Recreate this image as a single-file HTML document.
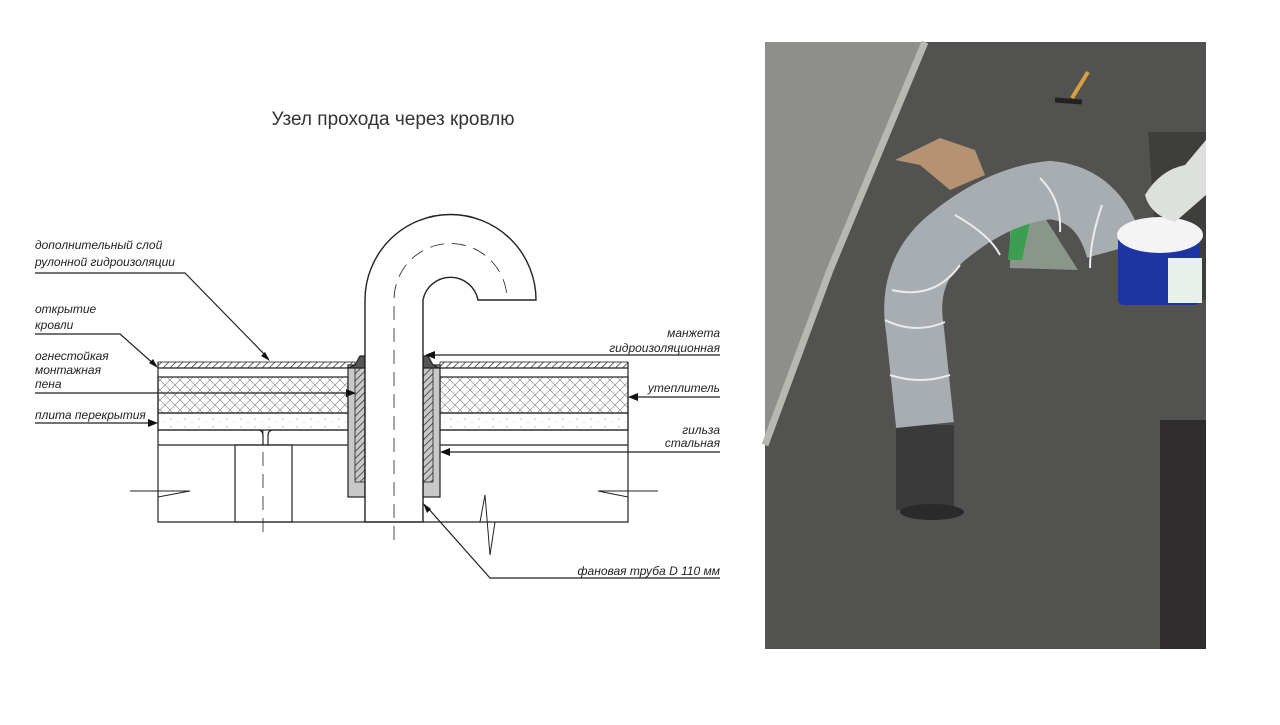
<!DOCTYPE html>
<html><head><meta charset="utf-8"><style>
html,body{margin:0;padding:0;background:#fff;}
body{width:1280px;height:720px;position:relative;overflow:hidden;font-family:"Liberation Sans","DejaVu Sans",sans-serif;}
svg text{font-family:"Liberation Sans","DejaVu Sans",sans-serif;font-style:italic;font-size:12px;fill:#222;}
</style></head><body>
<svg width="1280" height="720" viewBox="0 0 1280 720" xmlns="http://www.w3.org/2000/svg">
<defs>
<pattern id="xh" width="10" height="10" patternUnits="userSpaceOnUse">
<path d="M0 0L10 10M10 0L0 10" stroke="#777" stroke-width="0.6"/></pattern>
<pattern id="dg" width="5" height="5" patternUnits="userSpaceOnUse" patternTransform="rotate(45)">
<path d="M0 0V5" stroke="#222" stroke-width="1.4"/></pattern>
<pattern id="dt" width="14" height="8" patternUnits="userSpaceOnUse">
<circle cx="3" cy="3" r="0.6" fill="#999"/><circle cx="10" cy="6" r="0.5" fill="#aaa"/></pattern>
</defs>
<text x="393" y="125" text-anchor="middle" style="font-size:19px;font-style:normal;fill:#333">Узел прохода через кровлю</text>

<g stroke="#222" stroke-width="1.2" fill="none">
<rect x="158" y="362" width="197" height="6" fill="url(#dg)" stroke-width="0.8"/>
<rect x="440" y="362" width="188" height="6" fill="url(#dg)" stroke-width="0.8"/>
<rect x="158" y="377" width="190" height="36" fill="url(#xh)"/>
<rect x="440" y="377" width="188" height="36" fill="url(#xh)"/>
<rect x="158" y="413" width="190" height="17" fill="url(#dt)"/>
<rect x="440" y="413" width="188" height="17" fill="url(#dt)"/>
<path d="M158 362V522H365M423 522H628V362"/>
<path d="M158 368H348M440 368H628M158 445H348M440 445H628"/>
<path d="M158 430H258Q263 430 263 436V445M268 445V436Q268 430 273 430H348M440 430H628"/>
<rect x="235" y="445" width="57" height="77"/>
<rect x="348" y="365" width="17" height="132" fill="#c8c8c8"/>
<rect x="423" y="365" width="17" height="132" fill="#c8c8c8"/>
<rect x="355" y="368" width="10" height="114" fill="url(#dg)" stroke-width="0.8"/>
<rect x="423" y="368" width="10" height="114" fill="url(#dg)" stroke-width="0.8"/>
<path d="M355 365L360 356H365V368H348Z" fill="#555"/>
<path d="M433 365L428 356H423V368H440Z" fill="#555"/>
<path d="M365 522V300A85.5 85.5 0 0 1 536 300H478A28 28 0 0 0 423 300V522Z" fill="#fff" stroke-width="1.4"/>
<path d="M394 540V300A56 56 0 0 1 507 300" stroke-dasharray="14 8" stroke-width="0.8"/>
<path d="M263 430V540" stroke-dasharray="14 8" stroke-width="0.8"/>
<path d="M130 491H190L158 497M658 491H598L628 497" stroke-width="1"/>
<path d="M480 522L485 495L490 555L495 522" stroke-width="1"/>
<path d="M35 273H185L268 358"/>
<path d="M35 334H120L156 366"/>
<path d="M35 393H352"/>
<path d="M35 423H155"/>
<path d="M720 355H430"/>
<path d="M720 397H632"/>
<path d="M720 452H443"/>
<path d="M720 578H490L427 507"/>
</g>
<g fill="#111">
<path d="M270 361L261 356L265 352Z"/>
<path d="M158 368L149 363L153 359Z"/>
<path d="M356 393L346 389V397Z"/>
<path d="M158 423L148 419V427Z"/>
<path d="M425 355L435 351V359Z"/>
<path d="M628 397L638 393V401Z"/>
<path d="M440 452L450 448V456Z"/>
<path d="M423 503L427 513L431 509Z"/>
</g>
<text x="35" y="249">дополнительный слой</text>
<text x="35" y="266">рулонной гидроизоляции</text>
<text x="35" y="313">открытие</text>
<text x="35" y="329">кровли</text>
<text x="35" y="360">огнестойкая</text>
<text x="35" y="374">монтажная</text>
<text x="35" y="388">пена</text>
<text x="35" y="419">плита перекрытия</text>
<text x="720" y="337" text-anchor="end">манжета</text>
<text x="720" y="352" text-anchor="end">гидроизоляционная</text>
<text x="720" y="392" text-anchor="end">утеплитель</text>
<text x="720" y="434" text-anchor="end">гильза</text>
<text x="720" y="447" text-anchor="end">стальная</text>
<text x="720" y="575" text-anchor="end">фановая труба D 110 мм</text>

<!-- photo -->
<g>
<rect x="765" y="42" width="441" height="607" fill="#525250"/>
<path d="M765 42H925L830 270L765 445Z" fill="#8e8e8a"/>
<path d="M925 42L830 270L765 445" stroke="#b8b8b3" stroke-width="7" fill="none"/>
<path d="M1160 420V649H1206V420Z" fill="#2e2c2c"/>
<path d="M1148 132H1206V300H1160Z" fill="#3e3e3c"/>
<path d="M1010 218L1045 218L1078 270L1010 268Z" fill="#8a968a"/>
<path d="M1012 220L1030 222L1022 260L1008 260Z" fill="#3aa050"/>
<path d="M895 160L940 138L975 150L985 175L950 190L920 165Z" fill="#b49272"/>
<path d="M1055 100L1082 102" stroke="#222" stroke-width="5"/>
<path d="M1072 98L1088 72" stroke="#d8a040" stroke-width="4"/>
<path d="M925 510V425" stroke="#3a3a3a" stroke-width="58"/>
<ellipse cx="932" cy="512" rx="32" ry="8" fill="#2a2a2a"/>
<path d="M925 425L915 330Q905 270 950 235Q1000 195 1050 190Q1100 195 1115 250" stroke="#a8adb2" stroke-width="58" fill="none" stroke-linecap="butt"/>
<path d="M885 320Q915 335 945 322M892 290Q935 300 960 265M955 215Q990 235 1000 255M1040 178Q1062 200 1060 232M1102 205Q1090 240 1090 268M890 375Q920 385 950 375" stroke="#e8ecee" stroke-width="2" fill="none"/>
<rect x="1118" y="235" width="82" height="70" rx="5" fill="#1c35a0"/>
<ellipse cx="1160" cy="235" rx="43" ry="18" fill="#f4f4f4"/>
<rect x="1168" y="258" width="34" height="45" fill="#e8f0ea"/>
<path d="M1145 195Q1160 170 1185 165L1206 140V195L1175 222Q1150 215 1145 195Z" fill="#dde0dc"/>
</g>
</svg>
</body></html>
